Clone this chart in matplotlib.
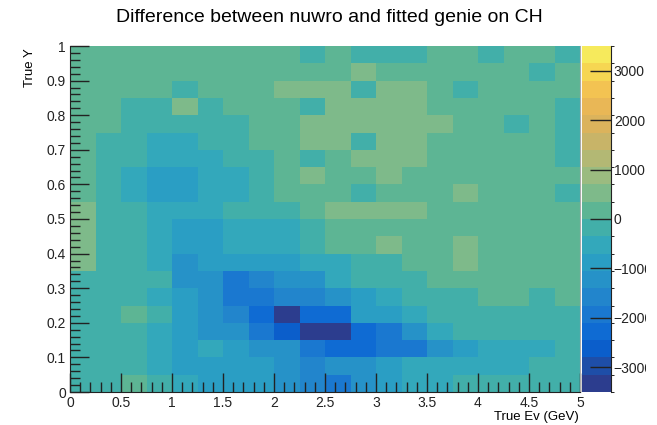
import numpy as np
import matplotlib
matplotlib.use("Agg")
import matplotlib.pyplot as plt
from matplotlib.colors import ListedColormap, BoundaryNorm
from matplotlib.ticker import MultipleLocator
from matplotlib.patches import Rectangle

plt.rcParams['font.family'] = ['Liberation Sans', 'DejaVu Sans']

# Bin edges (True Ev in GeV, True Y)
x_edges = np.linspace(0, 5, 21)
y_edges = np.linspace(0, 1, 21)

# Cell values, rows listed from top (Y=0.95-1.0) to bottom (Y=0-0.05)
diff_rows_top_to_bottom = [
    [150, 150, 150, 150, 150, 150, 150, 150, 150, -150, 150, -150, -150, -150, 150, 150, -150, 150, 150, -150],
    [150, 150, 150, 150, 150, 150, 150, 150, 150, 150, 150, 500, 150, 150, 150, 150, 150, 150, -150, 150],
    [150, 150, 150, 150, -150, 150, 150, 150, 500, 500, 500, -150, 500, 500, 150, -150, 150, 150, 150, 150],
    [150, 150, -150, -150, 500, -150, 150, 150, 150, -150, 500, 500, 500, 500, 150, 150, 150, 150, 150, -150],
    [150, 150, -150, -150, -150, -150, -150, 150, 150, 500, 500, 500, 500, 500, 500, 150, 150, -150, 150, -150],
    [150, -150, -150, -500, -500, -150, -150, 150, 150, 500, 500, -150, 500, 500, 150, 150, 150, 150, 150, -150],
    [150, -150, -150, -500, -500, -500, -150, -150, 150, -150, 150, 500, 500, 500, 150, 150, 150, 150, 150, -150],
    [150, -150, -500, -900, -900, -500, -500, -150, 150, 500, 150, 150, 500, 150, 150, 150, 150, 150, 150, 150],
    [150, -150, -500, -900, -900, -500, -500, -150, 150, 150, 150, -150, 150, 150, 150, 500, 150, 150, 150, -150],
    [500, -150, -150, -500, -500, -500, -150, -150, -150, 150, 500, 500, 500, 500, 150, 150, 150, 150, 150, 150],
    [500, -150, -150, -500, -900, -900, -500, -500, -500, -150, 150, 150, 150, 150, 150, 150, 150, 150, 150, 150],
    [500, -150, -150, -500, -900, -900, -500, -500, -500, -150, 150, 150, 500, 150, 150, 500, 150, 150, 150, 150],
    [500, -150, -150, -500, -1200, -900, -900, -900, -900, -500, -500, -150, -150, 150, 150, 500, 150, 150, 150, 150],
    [-150, -150, -150, -150, -1200, -1200, -1900, -1600, -1200, -1200, -500, -150, -150, -150, 150, 150, 150, 150, 150, 150],
    [-150, -150, -150, -500, -900, -1200, -1900, -1900, -1600, -1600, -1200, -900, -500, -150, -150, -150, 150, 150, -150, 150],
    [-150, -150, 150, -150, -900, -1200, -1600, -2300, -3300, -2300, -2300, -900, -900, -500, -150, -150, -150, -150, -150, -150],
    [-150, -150, -150, -500, -900, -1200, -1200, -1900, -2600, -3300, -3300, -2300, -1900, -1200, -500, -150, -150, -150, -150, -150],
    [-150, -150, -150, -500, -900, -500, -900, -1200, -1200, -1900, -2300, -2300, -1900, -1900, -1200, -900, -500, -500, -500, -150],
    [-150, -150, -150, -500, -900, -900, -900, -900, -1200, -1600, -1200, -1200, -900, -500, -500, -500, -500, -500, -150, -150],
    [-150, -150, 150, -150, -500, -900, -900, -900, -1200, -1600, -1900, -1200, -900, -500, -500, -150, -150, -150, -150, -150],
]

z_min, z_max, n_levels = -3500, 3500, 20
cbar_ticks = [-3000, -2000, -1000, 0, 1000, 2000, 3000]
x_ticks = [0, 0.5, 1, 1.5, 2, 2.5, 3, 3.5, 4, 4.5, 5]
x_tick_labels = ["0", "0.5", "1", "1.5", "2", "2.5", "3", "3.5", "4", "4.5", "5"]
y_ticks = [0, 0.1, 0.2, 0.3, 0.4, 0.5, 0.6, 0.7, 0.8, 0.9, 1]
y_tick_labels = ["0", "0.1", "0.2", "0.3", "0.4", "0.5", "0.6", "0.7", "0.8", "0.9", "1"]

# palette (ROOT bird-like, as it appears in the screenshot), one colour per contour level
level_colors = [
    "#2c3d8e", "#1e4ea8", "#0b5ecb", "#0f6bd3", "#1a78d0",
    "#2285cc", "#2692c8", "#2a9ec4", "#33a8bb", "#42afa9",
    "#5db594", "#7eba8a", "#9bbb80", "#b3b874", "#c8b468",
    "#dbb35c", "#e9b756", "#f3c352", "#f6d652", "#f6ea5c",
]
cmap = ListedColormap(level_colors)
norm = BoundaryNorm(np.linspace(z_min, z_max, n_levels + 1), n_levels)

Z = np.array(diff_rows_top_to_bottom)[::-1]

fig = plt.figure(figsize=(6.57, 4.25), dpi=100)
ax = fig.add_axes([70 / 657, 1 - 392 / 425, 510 / 657, 346 / 425])
mesh = ax.pcolormesh(x_edges, y_edges, Z, cmap=cmap, norm=norm, shading='flat')
ax.set_xlim(0, 5)
ax.set_ylim(0, 1)

ax.set_xticks(x_ticks)
ax.set_xticklabels(x_tick_labels)
ax.set_yticks(y_ticks)
ax.set_yticklabels(y_tick_labels)
ax.xaxis.set_minor_locator(MultipleLocator(0.1))
ax.yaxis.set_minor_locator(MultipleLocator(0.02))
ax.tick_params(which='both', direction='in', top=False, right=False, labelsize=10, width=1, colors='#222222')
ax.tick_params(which='major', length=14)
ax.tick_params(which='minor', length=7)
ax.tick_params(axis='x', pad=3)
ax.tick_params(axis='y', pad=3)
ax.spines['top'].set_visible(False)
ax.spines['right'].set_color('#aaaaaa')
ax.spines['right'].set_linewidth(0.8)
for s in ['left', 'bottom']:
    ax.spines[s].set_color('#222222')

fig.text(579 / 657, 1 - 417 / 425, "True Ev (GeV)", ha='right', va='center', fontsize=9.5)
fig.text(30 / 657, 1 - 48 / 425, "True Y", ha='center', va='top', rotation=90, fontsize=9.5)
fig.text(329 / 657, 1 - 18 / 425, "Difference between nuwro and fitted genie on CH",
         ha='center', va='center', fontsize=14)

cax = fig.add_axes([582 / 657, 1 - 392 / 425, 29 / 657, 346 / 425])
cb = fig.colorbar(mesh, cax=cax, ticks=cbar_ticks)
cb.outline.set_visible(False)
cax.tick_params(direction='in', length=15, width=1, labelsize=10, pad=2, colors='#222222')
cax.set_yticklabels([str(t).replace('-', '\u2212') for t in cbar_ticks])
cax.spines['right'].set_visible(True)
cax.spines['right'].set_color('#222222')

# the screenshot cuts the palette labels at its right edge
fig.add_artist(Rectangle((646 / 657, 0), 11 / 657, 1, transform=fig.transFigure,
                         facecolor='white', edgecolor='none', zorder=10))

fig.savefig("out.png", dpi=100)
